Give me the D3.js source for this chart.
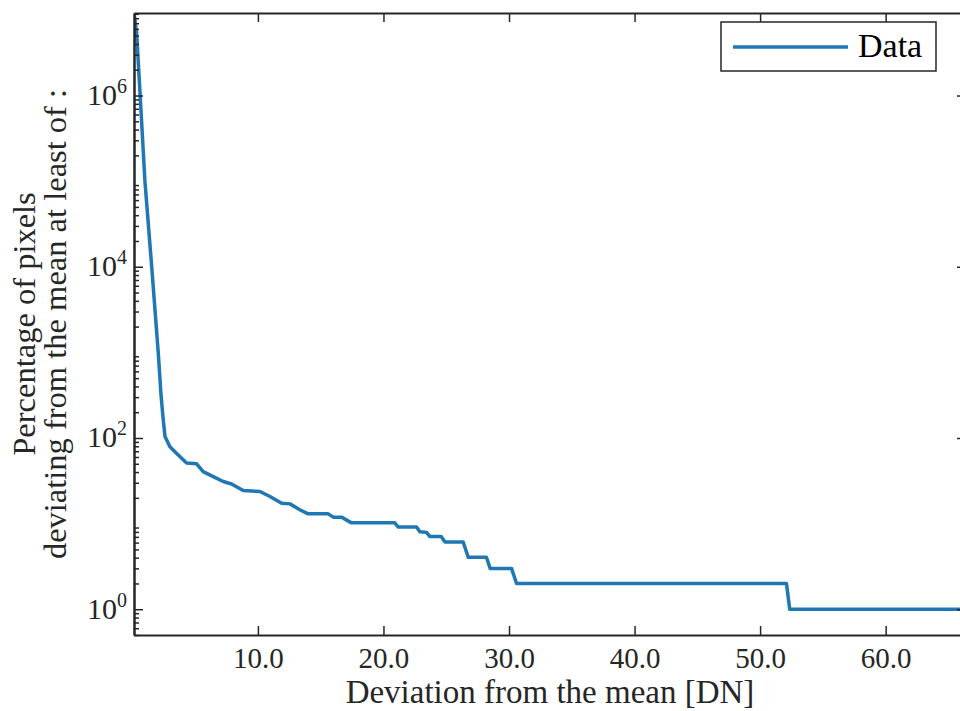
<!DOCTYPE html>
<html>
<head>
<meta charset="utf-8">
<script src="https://cdn.jsdelivr.net/npm/d3@7"></script>
<style>
  body { margin: 0; background: #fff; }
  svg { display: block; font-family: "Liberation Serif", "DejaVu Serif", serif; }
</style>
</head>
<body>
<svg id="chart" width="960" height="711"></svg>
<script>
// deviation from the mean [DN] (polyline vertices)
const deviation = [0.13, 0.34, 0.62, 1.0, 1.54, 2.06, 2.28, 2.46, 2.6, 2.99, 3.53, 4.32, 5.12, 5.64, 6.44, 7.24, 7.9, 8.83, 10.16,
    10.96, 11.89, 12.55, 13.34, 14.0, 15.6, 16.0, 16.66, 17.45, 20.9, 21.18, 22.64, 22.9, 23.43, 23.7, 24.6, 24.9, 26.35,
    26.75, 28.2, 28.5, 30.2, 30.6, 52.1, 52.36, 66.4];
// percentage of pixels deviating at least that much
const percentage = [9.2e6, 5.4e6, 1.0e6, 1.0e5, 1.0e4, 1.0e3, 320, 163, 104, 79, 66, 51, 50, 40.5, 35.4, 31, 29, 24.3, 23.7,
    20.7, 17.3, 17, 14.5, 13, 13, 11.9, 11.9, 10.2, 10.2, 9.1, 9.1, 8.05, 7.9, 7.05, 7.05, 6.1, 6.1,
    4.05, 4.05, 3.0, 3.0, 2.0, 2.0, 1.0, 1.0];

const xTicks = [10, 20, 30, 40, 50, 60];
const yTicks = [1, 1e2, 1e4, 1e6];
const xDomain = [0.13, 66.4];
const yDomain = [0.5, 9.2e6];

const svg = d3.select("#chart");
const margin = { left: 134, top: 13, right: 966, bottom: 635 };
const axisColor = "#262626";

const x = d3.scaleLinear().domain(xDomain).range([margin.left, margin.right]);
const y = d3.scaleLog().domain(yDomain).range([margin.bottom, margin.top]);

// minor log ticks
const minorTicks = [];
for (let e = -1; e <= 7; e++) {
    for (let m = 2; m <= 9; m++) {
        const v = m * Math.pow(10, e);
        if (v >= yDomain[0] && v <= yDomain[1]) minorTicks.push(v);
    }
}

svg.append("defs").append("clipPath").attr("id", "clip")
    .append("rect")
    .attr("x", margin.left).attr("y", margin.top)
    .attr("width", margin.right - margin.left)
    .attr("height", margin.bottom - margin.top);

// data line
const line = d3.line()
    .x((d, i) => x(deviation[i]))
    .y(d => y(d));

svg.append("path")
    .datum(percentage)
    .attr("clip-path", "url(#clip)")
    .attr("fill", "none")
    .attr("stroke", "#1f77b4")
    .attr("stroke-width", 3.5)
    .attr("stroke-linejoin", "round")
    .attr("d", line);

function styleAxis(g) {
    g.attr("font-family", null).attr("font-size", null);
    g.selectAll("path.domain").attr("stroke", axisColor).attr("stroke-width", 2);
    g.selectAll(".tick line").attr("stroke", axisColor).attr("stroke-width", 1.5);
    g.selectAll(".tick text").attr("fill", axisColor);
}

// bottom axis
const gx = svg.append("g")
    .attr("transform", `translate(0,${margin.bottom})`)
    .call(d3.axisBottom(x).tickValues(xTicks).tickFormat(d3.format(".1f"))
        .tickSizeInner(-9).tickSizeOuter(0).tickPadding(12))
    .call(styleAxis);
gx.selectAll(".tick text").attr("font-size", 29).attr("dy", "0.72em");

// top axis
svg.append("g")
    .attr("transform", `translate(0,${margin.top})`)
    .call(d3.axisTop(x).tickValues(xTicks).tickFormat("").tickSizeInner(-9).tickSizeOuter(0))
    .call(styleAxis);

// left axis
const gy = svg.append("g")
    .attr("transform", `translate(${margin.left},0)`)
    .call(d3.axisLeft(y).tickValues(yTicks).tickFormat("").tickSizeInner(-9).tickSizeOuter(0).tickPadding(7))
    .call(styleAxis);
svg.append("g")
    .attr("transform", `translate(${margin.left},0)`)
    .call(d3.axisLeft(y).tickValues(minorTicks).tickFormat("").tickSizeInner(-5).tickSizeOuter(0))
    .call(styleAxis);

gy.selectAll(".tick").each(function(d) {
    const t = d3.select(this).append("text")
        .attr("x", -7)
        .attr("y", 9)
        .attr("text-anchor", "end")
        .attr("fill", axisColor)
        .attr("font-size", 30);
    t.append("tspan").text("10");
    t.append("tspan").attr("font-size", 20).attr("dy", -12).text(Math.round(Math.log10(d)));
});

// right axis
svg.append("g")
    .attr("transform", `translate(${margin.right},0)`)
    .call(d3.axisRight(y).tickValues(yTicks).tickFormat("").tickSizeInner(-9).tickSizeOuter(0))
    .call(styleAxis);
svg.append("g")
    .attr("transform", `translate(${margin.right},0)`)
    .call(d3.axisRight(y).tickValues(minorTicks).tickFormat("").tickSizeInner(-5).tickSizeOuter(0))
    .call(styleAxis);

// axis labels
svg.append("text")
    .attr("x", (margin.left + margin.right) / 2)
    .attr("y", 703)
    .attr("text-anchor", "middle")
    .attr("fill", axisColor)
    .attr("font-size", 33)
    .text("Deviation from the mean [DN]");

const yLabel = svg.append("text")
    .attr("transform", `translate(0,${(margin.top + margin.bottom) / 2}) rotate(-90)`)
    .attr("text-anchor", "middle")
    .attr("fill", axisColor)
    .attr("font-size", 32.5);
yLabel.append("tspan").attr("x", 0).attr("y", 35).text("Percentage of pixels");
yLabel.append("tspan").attr("x", 0).attr("y", 66).text("deviating from the mean at least of :");

// legend
const legend = svg.append("g").attr("class", "legend");
legend.append("rect")
    .attr("x", 721).attr("y", 22)
    .attr("width", 215).attr("height", 49)
    .attr("fill", "#fff")
    .attr("stroke", axisColor)
    .attr("stroke-width", 1.5);
legend.append("line")
    .attr("x1", 733).attr("x2", 848)
    .attr("y1", 47).attr("y2", 47)
    .attr("stroke", "#1f77b4")
    .attr("stroke-width", 3.5);
legend.append("text")
    .attr("x", 858).attr("y", 57)
    .attr("fill", "#000")
    .attr("font-size", 34)
    .text("Data");
</script>
</body>
</html>
